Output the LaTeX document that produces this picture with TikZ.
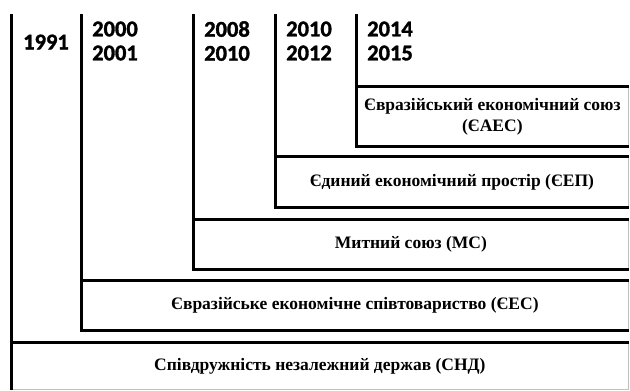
\documentclass[tikz,border=0pt]{standalone}
\usepackage{fontspec}
\setmainfont{Liberation Serif}
\newfontfamily\yearfont{Carlito}[BoldFont={Carlito Bold}, BoldFeatures={FakeBold=1.5}]
\usetikzlibrary{positioning}

\begin{document}
\begin{tikzpicture}[
    x=1pt, y=-1pt,
    union/.style={rectangle, draw=black!25, line width=0.8pt, anchor=north west, inner sep=0pt, align=center, font=\bfseries\fontsize{17.5}{21}\selectfont},
    year/.style={anchor=west, align=left, inner sep=0pt, font=\yearfont\bfseries\fontsize{22.5}{24}\selectfont},
    bar/.style={line width=3pt},
]
    \useasboundingbox (0,0) rectangle (630,391);

    % Unions
    \node[union, minimum width=617, minimum height=47] (snd)  at (11,342)  {Співдружність незалежний держав (СНД)};
    \node[union, minimum width=547, minimum height=50] (ees)  at (81,280)  {Євразійське економічне співтовариство (ЄЕС)};
    \node[union, minimum width=435, minimum height=50] (ms)   at (193,219) {Митний союз (МС)};
    \node[union, minimum width=353, minimum height=51] (eep)  at (275,156) {Єдиний економічний простір (ЄЕП)};
    \node[union, minimum width=272, minimum height=60] (eaes) at (356,86)  {Євразійський економічний союз\\(ЄАЕС)};

    % Years
    \coordinate (c1991) at (11,14);
    \coordinate (c2000) at (81,14);
    \coordinate (c2008) at (193,14);
    \coordinate (c2010) at (275,14);
    \coordinate (c2014) at (356,14);
    \node[year] (y1991) at (23,42)  {1991};
    \node[year] (y2000) at (92,41)  {2000\\2001};
    \node[year] (y2008) at (204,41) {2008\\2010};
    \node[year] (y2010) at (286,41) {2010\\2012};
    \node[year] (y2014) at (367,41) {2014\\2015};

    % Borders
    \draw[bar] (c1991) -- (snd.south west);
    \draw[bar] (snd.north west) -- (snd.north east);
    \foreach \u/\c in {ees/c2000, ms/c2008, eep/c2010, eaes/c2014}{
        \draw[bar] (\c) -- (\u.south west) -- (\u.south east);
        \draw[bar] (\u.north west) -- (\u.north east);
    }

\end{tikzpicture}
\end{document}
